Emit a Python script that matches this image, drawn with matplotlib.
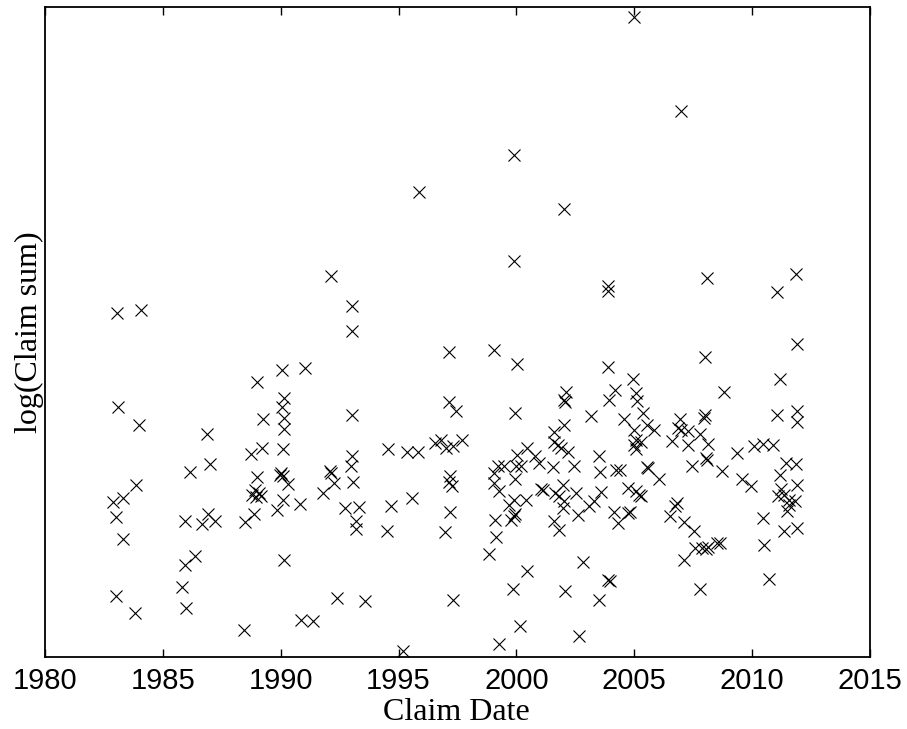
import matplotlib.pyplot as plt

# claim dates (decimal years) and log of claim sum
claim_year = [
    1983.04, 1984.06, 1995.85, 1992.15, 1993.02, 1993.02, 2004.97, 1999.89, 2002.03, 1999.89,
    2003.90, 2003.90, 2006.98, 2008.08, 2011.85, 2011.07,
    1988.98, 1983.08, 1984.00, 1986.89, 1986.99, 1986.14, 1988.72, 1988.98, 1988.90, 1989.07,
    1988.77, 1988.94, 1989.15, 1988.86, 1988.47, 1983.29, 1982.89, 1983.84, 1983.00, 1983.33,
    1983.00, 1983.81, 1985.93, 1986.64, 1986.92, 1987.23, 1986.36, 1985.93, 1985.83, 1986.00,
    1988.43,
    1997.13, 1990.06, 1991.02, 1990.14, 1990.06, 1990.14, 1990.14, 1989.25, 1993.02, 1997.13,
    1997.44, 1989.21, 1990.10, 1994.55, 1995.37, 1995.82, 1996.53, 1996.81, 1997.02, 1997.30,
    1997.71, 1990.03, 1989.96, 1990.08, 1992.08, 1992.15, 1993.02, 1993.00, 1993.06, 1992.25,
    1991.79, 1990.31, 1990.10, 1989.86, 1990.81, 1992.74, 1993.31, 1994.66, 1995.56, 1993.21,
    1993.18, 1994.50, 1997.20, 1997.16, 1997.26, 1997.20, 1996.95, 1990.16, 1992.40, 1993.56,
    1997.30, 1990.88, 1991.37, 1995.18,
    1999.07, 2000.03, 2003.90, 2004.96, 1999.92, 2004.19, 2003.94, 2002.11, 2002.03, 2002.06,
    2005.07, 2005.11, 2005.35, 2003.17, 2002.03, 2001.58, 2004.55, 2005.54, 2005.82, 2005.00,
    2001.58, 2001.75, 2001.89, 2002.17, 2005.07, 2005.00, 2005.07, 2005.28, 2006.61, 2000.44,
    2000.01, 2000.79, 2000.97, 1999.21, 1999.49, 1999.04, 1999.99, 2000.20, 1999.96, 1999.04,
    1999.28, 2001.54, 2002.46, 2003.52, 2003.56, 2004.22, 2004.41, 2005.54, 2005.57, 2006.06,
    2001.05, 2001.11, 2001.96, 2001.64, 2001.82, 2002.53, 2003.59, 2004.72, 2005.07, 2005.21,
    2005.28, 1999.89, 2000.41, 1999.70, 2002.03, 2001.96, 2003.31, 2003.09, 1999.92, 1999.78,
    1999.89, 1999.10, 1999.14, 2001.61, 2001.82, 2002.60, 2004.12, 2004.72, 2004.83, 2004.32,
    2006.53, 1998.83, 2000.44, 1999.84, 2002.81, 2002.08, 2003.90, 2003.98, 2003.52, 2000.17,
    1999.24, 2002.64,
    2011.92, 2008.00, 2011.19, 2008.81, 2011.07, 2011.89, 2011.89, 2008.00, 2007.97, 2006.95,
    2006.84, 2006.98, 2007.26, 2007.26, 2007.80, 2008.11, 2008.04, 2008.08, 2007.47, 2008.72,
    2009.34, 2010.08, 2010.44, 2010.90, 2009.59, 2009.97, 2011.43, 2011.85, 2011.19, 2011.24,
    2011.89, 2011.10, 2011.36, 2011.57, 2011.81, 2011.50, 2011.57, 2010.48, 2011.36, 2011.89,
    2010.51, 2010.72, 2006.81, 2006.74, 2007.09, 2007.54, 2007.09, 2007.57, 2007.89, 2008.04,
    2008.11, 2008.53, 2008.64, 2007.80,
]

log_claim = [
    11.87, 11.94, 14.29, 12.61, 12.01, 11.52, 17.79, 15.04, 13.96, 12.91,
    12.41, 12.32, 15.91, 12.57, 12.65, 12.29,
    10.50, 9.99, 9.64, 9.46, 8.86, 8.69, 9.06, 8.60, 8.34, 8.28,
    8.24, 8.20, 8.22, 7.86, 7.69, 8.17, 8.09, 8.43, 7.79, 7.35,
    6.22, 5.87, 7.71, 7.66, 7.86, 7.71, 7.01, 6.84, 6.39, 5.97,
    5.53,
    11.09, 10.73, 10.77, 10.17, 9.99, 9.77, 9.55, 9.75, 9.84, 10.09,
    9.92, 9.17, 9.16, 9.15, 9.09, 9.09, 9.27, 9.34, 9.17, 9.21,
    9.34, 8.67, 8.64, 8.62, 8.71, 8.67, 9.01, 8.81, 8.49, 8.47,
    8.27, 8.45, 8.13, 7.94, 8.05, 7.97, 7.99, 8.01, 8.17, 7.71,
    7.55, 7.51, 8.61, 8.49, 8.41, 7.89, 7.49, 6.94, 6.17, 6.11,
    6.14, 5.74, 5.71, 5.11,
    11.13, 10.86, 10.79, 10.55, 9.87, 10.33, 10.13, 10.29, 10.14, 10.09,
    10.27, 10.11, 9.87, 9.82, 9.64, 9.49, 9.75, 9.64, 9.54, 9.54,
    9.29, 9.24, 9.17, 9.09, 9.34, 9.24, 9.15, 9.29, 9.31, 9.17,
    9.04, 9.01, 8.87, 8.81, 8.81, 8.67, 8.81, 8.81, 8.55, 8.47,
    8.31, 8.79, 8.81, 9.02, 8.69, 8.73, 8.73, 8.79, 8.78, 8.55,
    8.35, 8.33, 8.44, 8.27, 8.21, 8.27, 8.29, 8.37, 8.31, 8.24,
    8.21, 8.14, 8.14, 8.04, 8.11, 7.97, 8.11, 8.01, 7.86, 7.74,
    7.81, 7.73, 7.39, 7.71, 7.54, 7.84, 7.89, 7.87, 7.89, 7.67,
    7.82, 7.06, 6.71, 6.35, 6.89, 6.31, 6.53, 6.51, 6.13, 5.62,
    5.26, 5.42,
    11.26, 10.99, 10.56, 10.29, 9.84, 9.92, 9.69, 9.84, 9.77, 9.75,
    9.57, 9.54, 9.51, 9.24, 9.46, 9.25, 8.97, 8.93, 8.81, 8.71,
    9.07, 9.22, 9.26, 9.24, 8.55, 8.41, 8.87, 8.86, 8.64, 8.35,
    8.44, 8.21, 8.24, 8.14, 8.11, 7.91, 8.04, 7.77, 7.51, 7.57,
    7.24, 6.55, 8.07, 8.02, 7.69, 7.51, 6.94, 7.17, 7.17, 7.15,
    7.19, 7.27, 7.27, 6.35,
]

x_ticks = [1980, 1985, 1990, 1995, 2000, 2005, 2010, 2015]

fig = plt.figure(figsize=(9.07, 7.29), dpi=100)
ax = fig.add_axes([0.0496, 0.0988, 0.9096, 0.8916])

ax.plot(claim_year, log_claim, linestyle="none", marker="x", color="black",
        markersize=9, markeredgewidth=0.8)

ax.set_xlim(1980, 2015)
ax.set_ylim(5, 18)
ax.set_xticks(x_ticks)
ax.set_xticklabels([str(t) for t in x_ticks], fontsize=21, family="Liberation Sans")
ax.set_yticks([])
ax.tick_params(axis="x", direction="in", length=6, width=1, top=True, pad=7.5)
for sp in ax.spines.values():
    sp.set_linewidth(1.3)

fig.text(456 / 907, 9 / 729, "Claim Date", fontsize=23, family="Liberation Serif",
         ha="center", va="baseline")
fig.text(29 / 907, 1 - 332 / 729, "log(Claim sum)", fontsize=23, family="Liberation Serif",
         rotation=90, ha="center", va="center")

fig.savefig("out.png", dpi=100)
